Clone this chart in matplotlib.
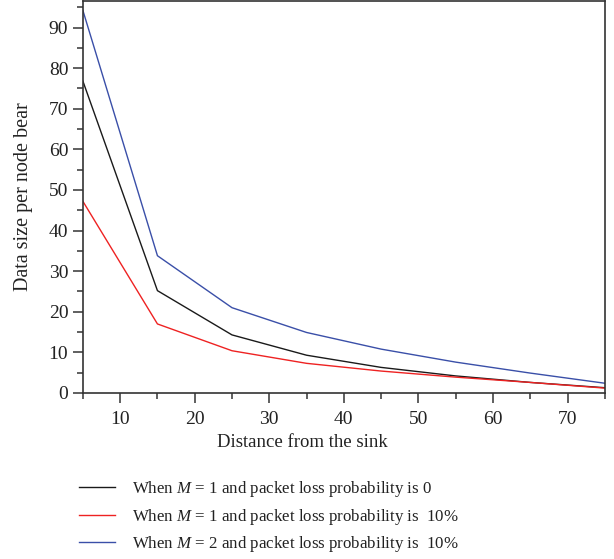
import numpy as np
import matplotlib as mpl
import matplotlib.pyplot as plt
from matplotlib.ticker import MultipleLocator

mpl.use('agg')

plt.rcParams['font.family'] = ['Liberation Serif', 'DejaVu Serif']
plt.rcParams['mathtext.fontset'] = 'custom'
plt.rcParams['mathtext.rm'] = 'Liberation Serif'
plt.rcParams['mathtext.it'] = 'Liberation Serif:italic'

# distance from sink
distance = [5, 15, 25, 35, 45, 55, 65, 75]

# data size per node
m1_loss0 = [76.8, 25.2, 14.3, 9.3, 6.3, 4.2, 2.6, 1.3]
m1_loss10 = [47.2, 17.0, 10.4, 7.3, 5.4, 3.9, 2.6, 1.2]
m2_loss10 = [94.2, 33.8, 21.0, 14.9, 10.8, 7.6, 4.9, 2.4]

labels = [
    'When $M$ = 1 and packet loss probability is 0',
    'When $M$ = 1 and packet loss probability is  10%',
    'When $M$ = 2 and packet loss probability is  10%',
]
colors = ['#1a1a1a', '#ee2222', '#3a4fa8']

fig = plt.figure(figsize=(6.14, 5.59), dpi=100)
ax = fig.add_axes([0.135, 0.297, 0.850, 0.701])

series = [m1_loss0, m1_loss10, m2_loss10]
for ys, c, lab in zip(series, colors, labels):
    ax.plot(distance, ys, color=c, lw=1.0, label=lab)

ax.set_xlim(5, 75)
ax.set_ylim(0, 96.5)
ax.xaxis.set_major_locator(MultipleLocator(10))
ax.xaxis.set_minor_locator(MultipleLocator(5))
ax.yaxis.set_major_locator(MultipleLocator(10))
ax.yaxis.set_minor_locator(MultipleLocator(5))

ax.tick_params(which='both', direction='out', color='#444444', width=1.2,
               labelsize=14, labelcolor='#222222')
ax.tick_params(which='major', length=7)
ax.tick_params(which='minor', length=4)
ax.tick_params(axis='x', which='major', pad=6)
for sp in ax.spines.values():
    sp.set_color('#333333')
    sp.set_linewidth(1.2)

ax.set_xlabel('Distance from the sink', fontsize=13.5, color='#222222')
ax.xaxis.set_label_coords((303 - 83) / 522, -0.105)
ax.set_ylabel('Data size per node bear', fontsize=14.5, color='#222222')
ax.yaxis.set_label_coords(-0.095, 0.5)

fig.legend(loc='upper left', bbox_to_anchor=(0.118, 0.155), frameon=False,
           fontsize=12.2, handlelength=2.1, handletextpad=1.0,
           labelspacing=0.45, labelcolor='#222222', borderaxespad=0)

fig.savefig('out.png', dpi=100)
